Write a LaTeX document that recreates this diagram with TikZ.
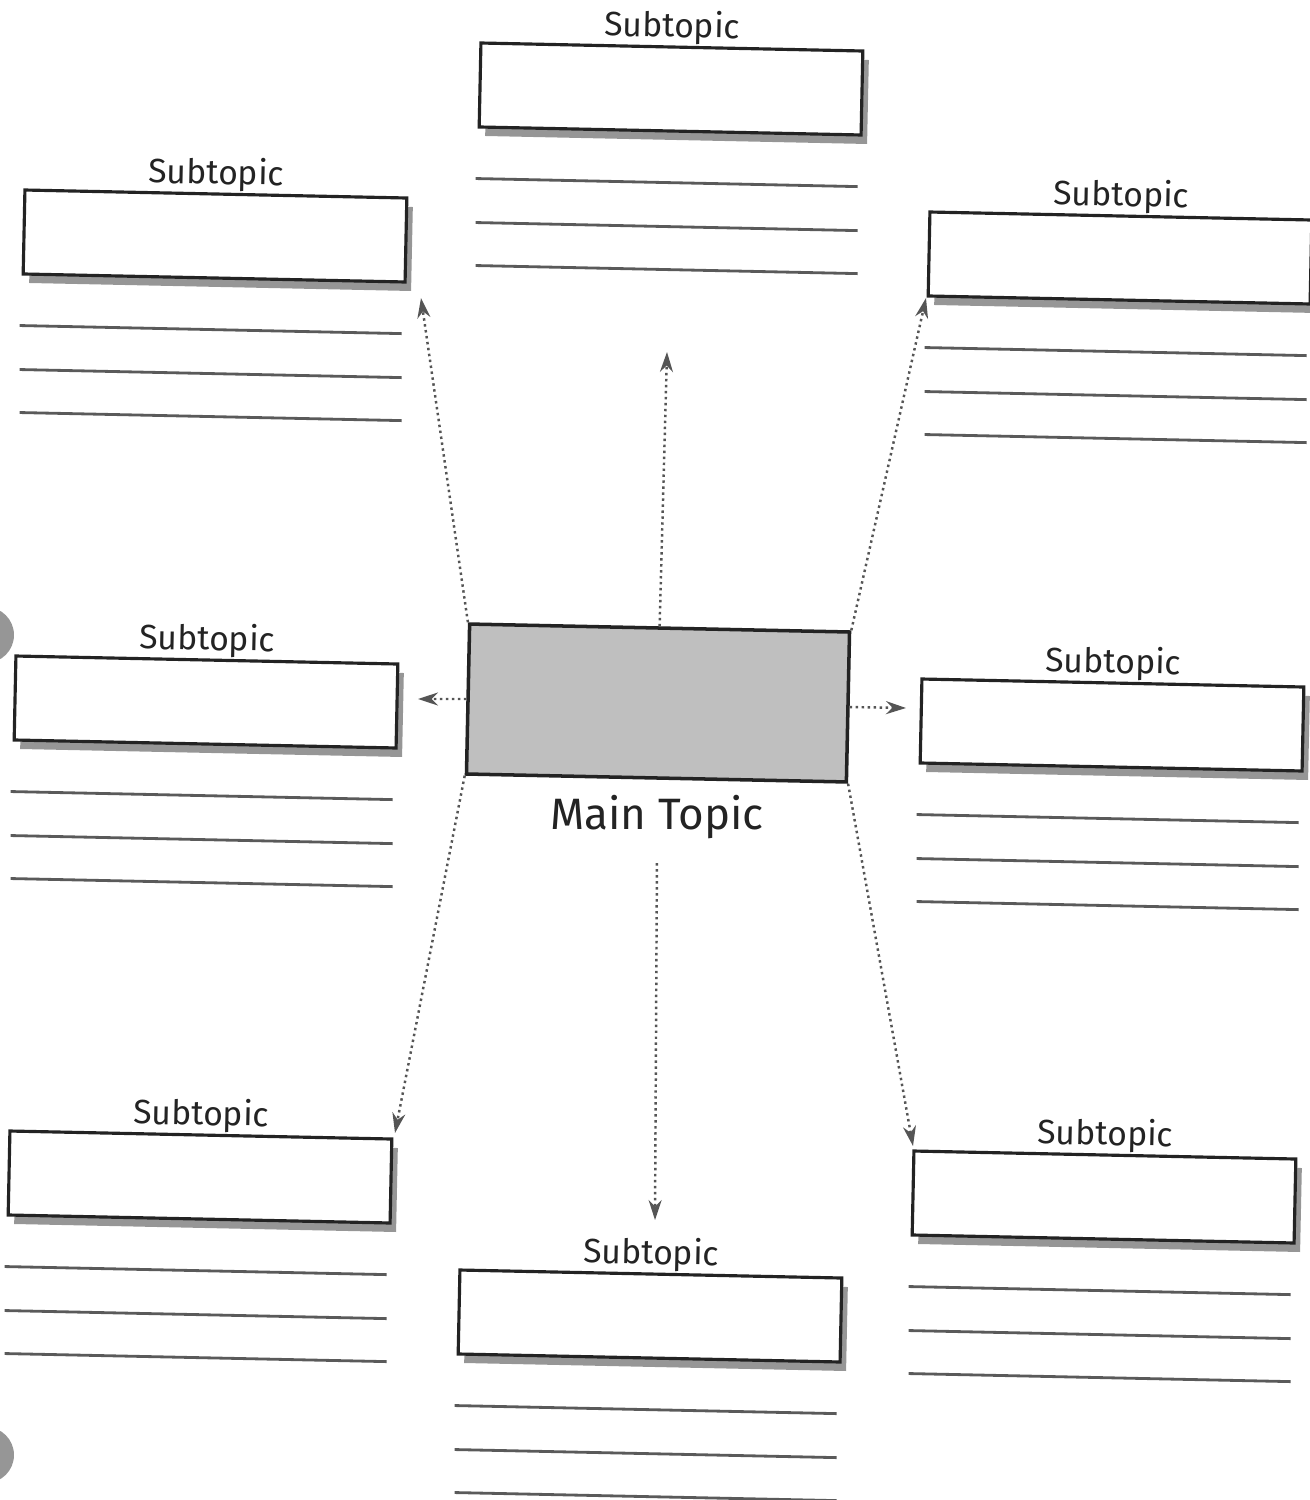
\documentclass[tikz,border=0pt]{standalone}
\usepackage{fontspec}
\setmainfont{Fira Sans}
\usetikzlibrary{arrows.meta,positioning,calc,shadows}
\definecolor{inkgray}{RGB}{35,35,35}
\definecolor{shadegray}{RGB}{150,150,150}
\definecolor{dotgray}{RGB}{85,85,85}
\definecolor{holegray}{RGB}{150,150,150}

\begin{document}
\begin{tikzpicture}[x=0.1mm,y=-0.1mm,
    subbox/.style={draw=inkgray,line width=0.9pt,fill=white,
      minimum width=38.2mm,minimum height=8.4mm,rotate=-1.2,
      drop shadow={shadow xshift=0.6mm,shadow yshift=-0.9mm,fill=shadegray,opacity=1}},
    lbl/.style={font=\fontsize{9.6}{11}\selectfont,text=inkgray,inner sep=0pt,rotate=-1.2},
    writeline/.style={inkgray!75,line width=0.8pt},
    link/.style={dotgray,densely dotted,line width=0.7pt,-{Stealth[length=2mm,width=1.3mm]}}]
  \useasboundingbox (0,0) rectangle (1309,1500);
  % --- punch holes on the left edge ---
  \fill[holegray] (-14,635) circle[radius=2.8mm];
  \fill[holegray] (-14,1455) circle[radius=2.8mm];
  % --- eight subtopic boxes with label and three writing lines ---
  \foreach \n/\x/\y in {st/671/89, stl/215/236, str/1120/258, sml/206/702,
                        smr/1112/725, sbl/200/1177, sbm/650/1316, sbr/1104/1197}{
    \node[subbox] (\n) at (\x,\y) {};
    \node[lbl,above=0.05mm of \n] (\n-lbl) {Subtopic};
    \foreach \dy in {50,94,137}
      \draw[writeline] ($(\n.south west)+(-2,\dy)$) -- ($(\n.south east)+(-5,\dy)$);
  }
  % --- main topic (shaded box) ---
  \node[draw=inkgray,line width=1pt,fill=gray!50,minimum width=38mm,
        minimum height=15mm,rotate=-1.2] (main) at (658,703) {};
  \node[font=\fontsize{12.5}{15}\selectfont,text=inkgray] (mainlbl) at (657,817) {Main Topic};
  % --- arrow tips just off each subtopic ---
  \coordinate (tipU)  at (667,352);
  \coordinate (tipTL) at (421,298);
  \coordinate (tipTR) at (926,298);
  \coordinate (tipL)  at (418,699);
  \coordinate (tipR)  at (906,708);
  \coordinate (tipBL) at (395,1133);
  \coordinate (tipD)  at (655,1220);
  \coordinate (tipBR) at (913,1146);
  % --- dotted arrows out of the main topic ---
  \draw[link] (main.north) -- (tipU);
  \draw[link] (main.north west) -- (tipTL);
  \draw[link] (main.north east) -- (tipTR);
  \draw[link] (main.west) -- (tipL);
  \draw[link] (main.east) -- (tipR);
  \draw[link] (main.south west) -- (tipBL);
  \draw[link] (main.south east) -- (tipBR);
  \draw[link,shorten <=1.2mm] (mainlbl.south) -- (tipD);
\end{tikzpicture}
\end{document}
